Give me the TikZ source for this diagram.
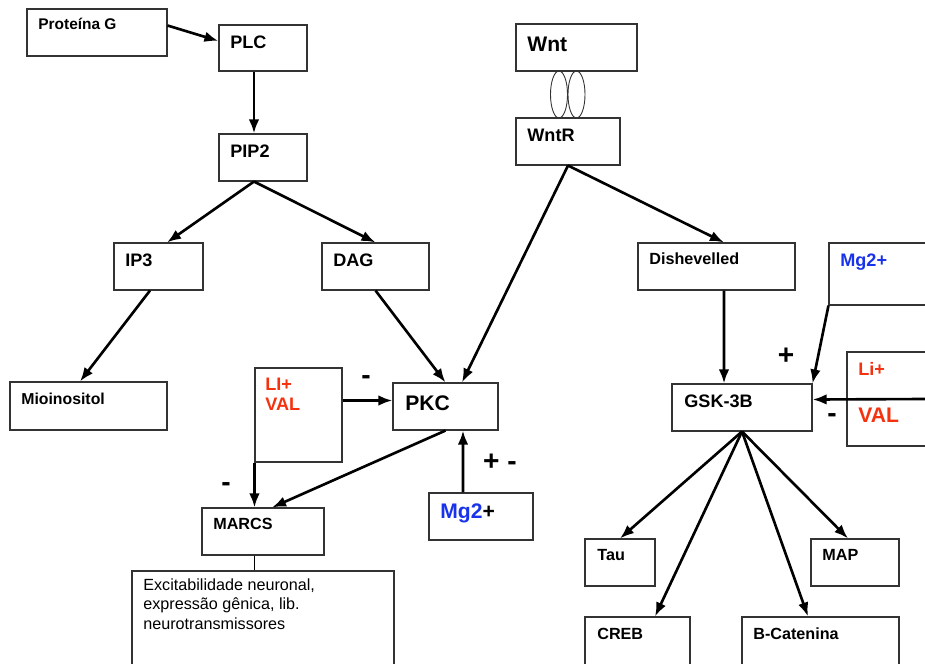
\documentclass[tikz,border=0pt]{standalone}
\usepackage{fontspec}
\setmainfont{Liberation Sans}
\usetikzlibrary{arrows.meta,fit,calc,shapes.geometric}
\definecolor{ionred}{RGB}{245,50,15}
\definecolor{ionblue}{RGB}{25,50,235}

\begin{document}
\begin{tikzpicture}[x=0.02cm, y=-0.02cm, >={Latex[length=8pt,width=6pt]},
  box/.style={draw=black!80, line width=0.6pt, inner sep=0pt},
  lbl/.style={anchor=west, inner sep=0pt, font=\fontsize{10.3}{12}\selectfont\bfseries},
  sm/.style={lbl, font=\fontsize{9.2}{11}\selectfont\bfseries},
  big/.style={lbl, font=\fontsize{12}{14}\selectfont\bfseries},
  sgn/.style={inner sep=0pt, font=\fontsize{16}{16}\selectfont\bfseries},
  arr/.style={->, line width=1.5pt}]
\fill[white] (0,0) rectangle (925,663);
\useasboundingbox (0,0) rectangle (925,663);
\clip (0,0) rectangle (925,663);
% --- PLC branch ---
\node[box, fit={(27,9) (167,56)}] (protg) {};
\node[sm, font=\fontsize{8.8}{10}\selectfont\bfseries] (protg-t) at (38,24) {Proteína G};
\node[box, fit={(219,25) (307,71)}] (plc) {};
\node[lbl] (plc-t) at (230,42) {PLC};
\node[box, fit={(219,134) (307,181)}] (pip2) {};
\node[lbl] (pip2-t) at (230,151) {PIP2};
\node[box, fit={(114,243) (203,290)}] (ip3) {};
\node[lbl] (ip3-t) at (125,260) {IP3};
\node[box, fit={(322,243) (429,290)}] (dag) {};
\node[lbl] (dag-t) at (333,260) {DAG};
\node[box, fit={(10,382) (167,430)}] (mio) {};
\node[sm, font=\fontsize{9}{10}\selectfont\bfseries] (mio-t) at (21,399) {Mioinositol};
% --- PKC and MARCS ---
\node[box, fit={(255,368) (342,462)}] (lival) {};
\node[lbl, text=ionred] (lival-t1) at (265,384) {LI+};
\node[lbl, text=ionred] (lival-t2) at (265,404) {VAL};
\node[box, fit={(393,383) (498,430)}] (pkc) {};
\node[big] (pkc-t) at (405,403) {PKC};
\node[box, fit={(429,493) (533,540)}] (mgl) {};
\node[big] (mgl-t) at (440,513) {\textcolor{ionblue}{Mg2}+};
\node[box, fit={(202,508) (324,555)}] (marcs) {};
\node[sm] (marcs-t) at (213,524) {MARCS};
\node[box, fit={(132,571) (394,690)}] (exc) {};
\node[anchor=north west, inner sep=0pt, align=left,
  font=\fontsize{9.2}{11.3}\selectfont] (exc-t) at (143,578)
  {Excitabilidade neuronal,\\expressão gênica, lib.\\neurotransmissores};
% --- Wnt branch ---
\node[box, fit={(516,24) (637,71)}] (wnt) {};
\node[big] (wnt-t) at (527,44) {Wnt};
\node[draw=black!80, line width=0.5pt, ellipse, inner sep=0pt,
  minimum width=17*0.02cm, minimum height=47*0.02cm] (rec1) at (559,94.5) {};
\node[draw=black!80, line width=0.5pt, ellipse, inner sep=0pt,
  minimum width=17*0.02cm, minimum height=47*0.02cm] (rec2) at (576.5,94.5) {};
\node[box, fit={(516,118) (620,165)}] (wntr) {};
\node[lbl] (wntr-t) at (527,135) {WntR};
\node[box, fit={(638,243) (795,290)}] (dish) {};
\node[sm] (dish-t) at (649,259) {Dishevelled};
\node[box, fit={(829,243) (960,305)}] (mgr) {};
\node[lbl, text=ionblue] (mgr-t) at (840,262) {Mg2+};
\node[box, fit={(847,352) (960,446)}] (lir) {};
\node[lbl, text=ionred] (lir-t1) at (858,369) {Li+};
\node[big, text=ionred] (lir-t2) at (858,415) {VAL};
\coordinate (lirin) at (925,399);
\node[box, fit={(672,384) (812,431)}] (gsk) {};
\node[lbl] (gsk-t) at (684,401) {GSK-3B};
% --- GSK-3B targets ---
\node[box, fit={(585,539) (655,586)}] (tau) {};
\node[sm] (tau-t) at (597,555) {Tau};
\node[box, fit={(811,539) (899,586)}] (map) {};
\node[sm] (map-t) at (822,555) {MAP};
\node[box, fit={(585,617) (690,690)}] (creb) {};
\node[sm] (creb-t) at (597,634) {CREB};
\node[box, fit={(742,617) (899,690)}] (bcat) {};
\node[sm] (bcat-t) at (753,634) {B-Catenina};
% --- signs ---
\node[sgn] (s1) at (366,380) {-};
\node[sgn] (s2) at (500,462) {+ -};
\node[sgn] (s3) at (226,487) {-};
\node[sgn] (s4) at (786,356) {+};
\node[sgn] (s5) at (832,418) {-};
% --- connectors ---
\draw[arr] ($(protg.east)+(0,-7)$) -- ($(plc.west)+(0,-7)$);
\draw[arr] ($(plc.south)+(-9,0)$) -- ($(pip2.north)+(-9,0)$);
\draw[arr] ($(pip2.south)+(-9,0)$) -- ($(ip3.north)+(8.5,0)$);
\draw[arr] ($(pip2.south)+(-9,0)$) -- (dag.north);
\draw[arr] ($(ip3.south)+(-8.5,0)$) -- ($(mio.north)+(-8.5,0)$);
\draw[arr] (dag.south) -- (pkc.north);
\draw[arr] (wntr.south) -- ($(pkc.north)+(16.5,0)$);
\draw[arr] (wntr.south) -- ($(dish.north)+(7.5,0)$);
\draw[arr] ($(dish.south)+(7.5,0)$) -- ($(gsk.north)+(-18,0)$);
\draw[arr] ($(pkc.west -| lival.east)+(0,-6)$) -- ($(pkc.west)+(0,-6)$);
\draw[arr] (lival.south west) -- (lival.south west |- marcs.north);
\draw[arr] (pkc.south) -- ($(marcs.north)+(9,0)$);
\draw[arr] ($(mgl.north)+(-18,0)$) -- ($(pkc.south)+(17.5,0)$);
\draw[line width=0.6pt] (lival.south west |- marcs.south) -- (lival.south west |- exc.north);
\draw[arr] (mgr.south west) -- (gsk.north east);
\draw[arr] (lirin) -- ($(gsk.east)+(0,-8)$);
\draw[arr] (gsk.south) -- (tau.north);
\draw[arr] (gsk.south) -- ($(creb.north)+(17.5,0)$);
\draw[arr] (gsk.south) -- ($(bcat.north)+(-12.5,0)$);
\draw[arr] (gsk.south) -- ($(map.north)+(-7,0)$);
\end{tikzpicture}
\end{document}
